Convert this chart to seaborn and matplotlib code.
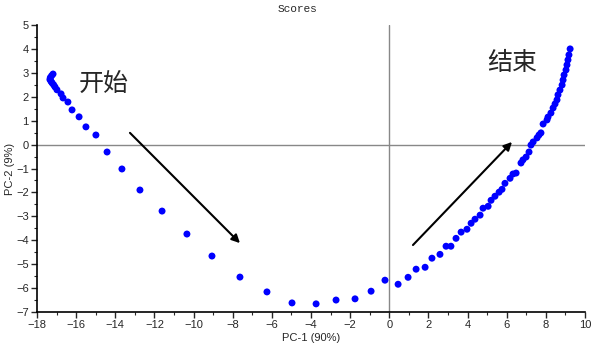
import numpy as np
import pandas as pd
import matplotlib
matplotlib.use('Agg')
import matplotlib.pyplot as plt
import seaborn as sns
from matplotlib.ticker import MultipleLocator

pc1 = [-17.18, -17.25, -17.32, -17.34, -17.28, -17.23, -17.15, -17.08, -16.98, -16.77,
       -16.67, -16.42, -16.21, -15.85, -15.50, -14.99, -14.42, -13.66, -12.74, -11.61,
       -10.34, -9.06, -7.63, -6.25, -4.97, -3.74, -2.72, -1.75, -0.93, -0.22,
       0.45, 0.96, 1.37, 1.83, 2.18, 2.59, 2.90, 3.15, 3.41, 3.67,
       3.97, 4.18, 4.38, 4.64, 4.79, 5.05, 5.20, 5.40, 5.61, 5.76,
       5.91, 6.17, 6.32, 6.48, 6.73, 6.83, 6.99, 7.14, 7.24, 7.35,
       7.55, 7.65, 7.75, 7.86, 8.06, 8.11, 8.26, 8.37, 8.47, 8.57,
       8.62, 8.72, 8.83, 8.88, 8.93, 9.03, 9.08, 9.13, 9.18, 9.24]
pc2 = [2.95, 2.88, 2.80, 2.72, 2.64, 2.58, 2.50, 2.41, 2.29, 2.12,
       1.95, 1.78, 1.45, 1.16, 0.74, 0.40, -0.31, -1.02, -1.90, -2.78,
       -3.74, -4.66, -5.54, -6.16, -6.62, -6.66, -6.50, -6.45, -6.13, -5.67,
       -5.84, -5.55, -5.21, -5.13, -4.75, -4.59, -4.25, -4.25, -3.92, -3.66,
       -3.54, -3.29, -3.12, -2.95, -2.66, -2.58, -2.33, -2.16, -1.99, -1.87,
       -1.62, -1.41, -1.23, -1.19, -0.77, -0.64, -0.52, -0.31, -0.02, 0.11,
       0.28, 0.40, 0.49, 0.86, 1.03, 1.15, 1.32, 1.53, 1.70, 1.87,
       2.08, 2.28, 2.49, 2.70, 2.91, 3.12, 3.33, 3.54, 3.75, 4.00]

arrow_start = [(-13.25, 0.49), (1.21, -4.20)]
arrow_end = [(-7.63, -4.12), (6.27, 0.11)]
labels = ['开始', '结束']
label_pos = [(-14.6, 2.54), (6.3, 3.41)]

df = pd.DataFrame({'PC-1': pc1, 'PC-2': pc2})

sns.set_style('ticks')
plt.rcParams['font.family'] = ['Liberation Sans', 'Noto Sans CJK SC', 'DejaVu Sans']

fig = plt.figure(figsize=(5.95, 3.5), dpi=100)
ax = fig.add_axes([37/595, 1-312/350, 548/595, 287/350])

# zero reference lines
ax.axhline(0, color='#888888', lw=1, zorder=0)
ax.axvline(0, color='#888888', lw=1, zorder=0)

sns.scatterplot(data=df, x='PC-1', y='PC-2', ax=ax, color='#0000ff',
                s=25, edgecolor='none', zorder=3)

for (x0, y0), (x1, y1) in zip(arrow_start, arrow_end):
    ax.annotate('', xy=(x1, y1), xytext=(x0, y0),
                arrowprops=dict(arrowstyle='-|>', color='black', lw=1.5,
                                mutation_scale=12, shrinkA=0, shrinkB=0))

for t, (x, y) in zip(labels, label_pos):
    ax.text(x, y, t, fontsize=18, ha='center', va='center',
            family=['Noto Sans CJK SC', 'DejaVu Sans'])

ax.set_xlim(-18, 10)
ax.set_ylim(-7, 5)
ax.xaxis.set_major_locator(MultipleLocator(2))
ax.xaxis.set_minor_locator(MultipleLocator(1))
ax.yaxis.set_major_locator(MultipleLocator(1))
ax.yaxis.set_minor_locator(MultipleLocator(0.5))
ax.tick_params(which='major', length=4, width=1, labelsize=8, pad=2, direction='out')
ax.tick_params(which='minor', length=2, width=0.8, direction='out')
sns.despine(ax=ax)
for sp in ['left', 'bottom']:
    ax.spines[sp].set_linewidth(1.2)
    ax.spines[sp].set_color('black')

ax.set_xlabel('PC-1 (90%)', fontsize=8, labelpad=2)
ax.set_ylabel('PC-2 (9%)', fontsize=8, labelpad=1)
fig.text(0.5, 1-9/350, 'Scores', ha='center', va='center', fontsize=8,
         family='Liberation Mono')

fig.savefig('out.png', dpi=100)
